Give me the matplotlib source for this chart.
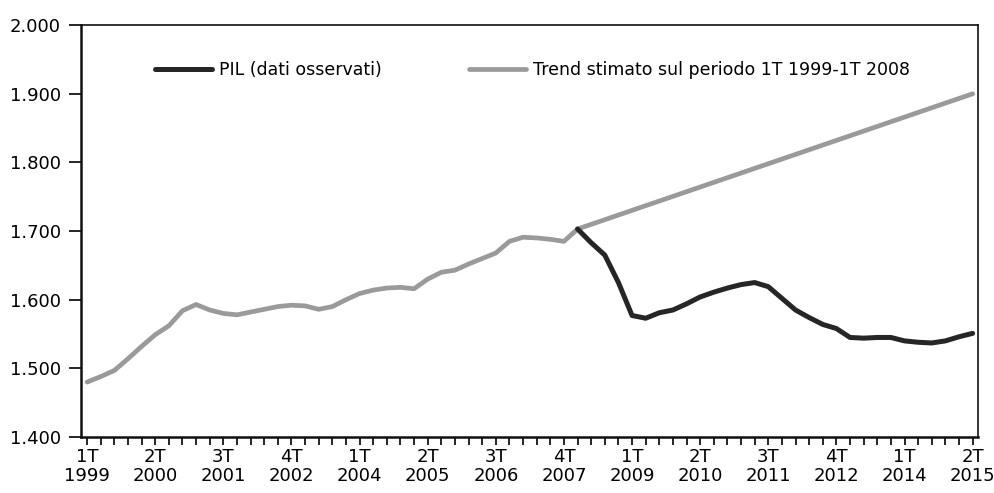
import matplotlib
matplotlib.use('Agg')
import matplotlib.pyplot as plt
from matplotlib.ticker import FixedLocator

# quarterly GDP, 1T 1999 .. 2T 2015 (index 0..65)
gray_obs = [1480, 1488, 1497, 1514, 1532, 1549, 1562, 1584, 1593, 1585,
            1580, 1578, 1582, 1586, 1590, 1592, 1591, 1586, 1590, 1600,
            1609, 1614, 1617, 1618, 1616, 1630, 1640, 1643, 1652, 1660,
            1668, 1685, 1691, 1690, 1688, 1685, 1703]
trend_q = [36, 65]
trend_vals = [1703, 1900]
pil_after = [1703, 1683, 1665, 1625, 1577, 1573, 1581, 1585, 1594, 1604,
             1611, 1617, 1622, 1625, 1619, 1602, 1585, 1574, 1564, 1558,
             1545, 1544, 1545, 1545, 1540, 1538, 1537, 1540, 1546, 1551]
x_labels = ['1T\n1999', '2T\n2000', '3T\n2001', '4T\n2002', '1T\n2004',
            '2T\n2005', '3T\n2006', '4T\n2007', '1T\n2009', '2T\n2010',
            '3T\n2011', '4T\n2012', '1T\n2014', '2T\n2015']
y_ticks = [1400, 1500, 1600, 1700, 1800, 1900, 2000]
y_labels = ['1.400', '1.500', '1.600', '1.700', '1.800', '1.900', '2.000']

plt.rcParams['font.family'] = ['DejaVu Sans']

fig = plt.figure(figsize=(9.95, 4.93), dpi=100)
ax = fig.add_axes([0.0814, 0.1136, 0.9016, 0.8354])

dark = '#262626'
grey = '#9a9a9a'

x_obs = list(range(len(gray_obs)))
x_after = list(range(36, 36 + len(pil_after)))

ax.plot(x_after, pil_after, color=dark, lw=3.6, solid_capstyle='round',
        label='PIL (dati osservati)', zorder=3)
ax.plot(x_obs, gray_obs, color=grey, lw=3.4, solid_capstyle='round', zorder=2)
ax.plot(trend_q, trend_vals, color=grey, lw=3.4, solid_capstyle='round',
        label='Trend stimato sul periodo 1T 1999-1T 2008', zorder=2)

ax.set_xlim(-0.45, 65.4)
ax.set_ylim(1400, 2000)
ax.set_yticks(y_ticks)
ax.set_yticklabels(y_labels, fontsize=13)
ax.set_xticks(list(range(0, 66, 5)))
ax.set_xticklabels(x_labels, fontsize=13, linespacing=1.05)
ax.xaxis.set_minor_locator(FixedLocator(list(range(66))))
ax.tick_params(axis='x', which='both', direction='out', length=6, width=1.2)
ax.tick_params(axis='x', which='major', pad=2)
ax.tick_params(axis='y', direction='out', length=9, width=1.2, pad=5.5)

for s in ax.spines.values():
    s.set_linewidth(1.2)
    s.set_color('#111111')
ax.spines['left'].set_linewidth(1.8)
ax.spines['bottom'].set_linewidth(1.8)

ax.legend(loc='center', bbox_to_anchor=(0.503, 0.891), ncol=2, frameon=False,
          fontsize=12.5, handlelength=3.3, handletextpad=0.4, columnspacing=5.0)

fig.savefig('out.png', dpi=100, facecolor='white')
